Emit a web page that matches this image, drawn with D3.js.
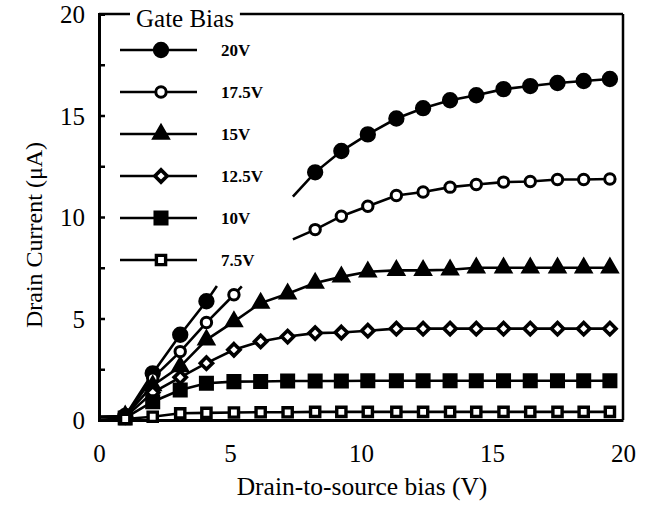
<!DOCTYPE html>
<html>
<head>
<meta charset="utf-8">
<script src="https://cdn.jsdelivr.net/npm/d3@7/dist/d3.min.js"></script>
<style>
  body { margin: 0; background: #fff; }
</style>
</head>
<body>
<div id="chart"></div>
<script>
// drain-to-source bias (V) where points were taken
var vds = [0, 1.0, 2.05, 3.1, 4.1, 5.15, 6.17, 7.2, 8.25, 9.25, 10.26, 11.35, 12.37, 13.4, 14.4, 15.44, 16.46, 17.5, 18.5, 19.5];

var gateLabels = ["20V", "17.5V", "15V", "12.5V", "10V", "7.5V"];

// drain current (uA), null = hidden in the original figure
var id20  = [0.15, 0.2, 2.3, 4.2, 5.85, null, null, null, 12.2, 13.25, 14.07, 14.85, 15.36, 15.75, 16.0, 16.3, 16.45, 16.6, 16.7, 16.8];
var id175 = [0.15, 0.2, 2.06, 3.37, 4.8, 6.17, null, null, 9.38, 10.04, 10.53, 11.06, 11.23, 11.47, 11.6, 11.72, 11.75, 11.85, 11.85, 11.87];
var id15  = [0.15, 0.2, 1.7, 2.63, 3.95, 4.85, 5.76, 6.22, 6.75, 7.05, 7.3, 7.37, 7.37, 7.4, 7.5, 7.5, 7.5, 7.5, 7.5, 7.5];
var id125 = [0.15, 0.15, 1.35, 2.1, 2.8, 3.46, 3.87, 4.11, 4.28, 4.31, 4.4, 4.5, 4.5, 4.5, 4.5, 4.5, 4.5, 4.5, 4.5, 4.5];
var id10  = [0.15, 0.1, 0.9, 1.48, 1.81, 1.89, 1.9, 1.92, 1.92, 1.92, 1.93, 1.93, 1.93, 1.93, 1.93, 1.93, 1.93, 1.93, 1.93, 1.93];
var id75  = [0.15, 0.05, 0.16, 0.33, 0.35, 0.37, 0.38, 0.38, 0.4, 0.4, 0.4, 0.4, 0.4, 0.4, 0.4, 0.4, 0.4, 0.4, 0.4, 0.4];

// line ends that run into the blank region (no marker)
var stubX20  = [4.5, 7.4];
var stubY20  = [6.6, 11.0];
var stubX175 = [5.45, 7.4];
var stubY175 = [6.58, 8.9];

var yTicks = [0, 2.5, 5, 7.5, 10, 12.5, 15, 17.5, 20];
var xTicks = [0, 5, 10, 15, 20];

var FONT = "'Liberation Serif', 'Times New Roman', 'DejaVu Serif', serif";
var W = 650, H = 505;
var svg = d3.select("#chart").append("svg").attr("width", W).attr("height", H)
  .style("font-family", FONT);

var x = d3.scaleLinear().domain([0, 20]).range([99, 623]);
var y = d3.scaleLinear().domain([0, 20]).range([420, 14]);

var series = [
  {label: gateLabels[0], vals: id20,  sx: stubX20,  sy: stubY20,  sym: d3.symbolCircle,   size: 140, fill: "#000", sw: 3},
  {label: gateLabels[1], vals: id175, sx: stubX175, sy: stubY175, sym: d3.symbolCircle,   size: 85,  fill: "#fff", sw: 3},
  {label: gateLabels[2], vals: id15,  sx: [], sy: [],             sym: d3.symbolTriangle, size: 90,  fill: "#000", sw: 3},
  {label: gateLabels[3], vals: id125, sx: [], sy: [],             sym: d3.symbolDiamond2, size: 95,  fill: "#fff", sw: 3.6},
  {label: gateLabels[4], vals: id10,  sx: [], sy: [],             sym: d3.symbolSquare,   size: 145, fill: "#000", sw: 3},
  {label: gateLabels[5], vals: id75,  sx: [], sy: [],             sym: d3.symbolSquare,   size: 85,  fill: "#fff", sw: 3.4}
];

var line = d3.line()
  .defined(function(d) { return d.i != null; })
  .x(function(d) { return x(d.v); })
  .y(function(d) { return y(d.i); });

// frame
svg.append("line").attr("x1", x(20)).attr("x2", x(20)).attr("y1", y(0)).attr("y2", y(20))
  .attr("stroke", "#000").attr("stroke-width", 2.5);
svg.append("line").attr("x1", x(0)).attr("x2", x(20)).attr("y1", y(20)).attr("y2", y(20))
  .attr("stroke", "#000").attr("stroke-width", 2.5);

// y axis, ticks pointing inward
var yAxis = svg.append("g").attr("transform", "translate(" + x(0) + ",0)")
  .call(d3.axisLeft(y).tickValues(yTicks).tickSize(-6).tickPadding(14)
    .tickFormat(function(d) { return d % 5 === 0 ? d : ""; }));
yAxis.attr("font-family", null).attr("font-size", null);
yAxis.select(".domain").attr("stroke-width", 3);
yAxis.selectAll(".tick line").attr("stroke-width", 2.5);
yAxis.selectAll("text").style("font-size", "25px").style("font-family", FONT).attr("dy", "0.35em");

var xAxis = svg.append("g").attr("transform", "translate(0," + y(0) + ")")
  .call(d3.axisBottom(x).tickValues(xTicks).tickSize(0).tickPadding(33).tickSizeOuter(0));
xAxis.attr("font-family", null).attr("font-size", null);
xAxis.select(".domain").attr("stroke-width", 3);
xAxis.selectAll("text").style("font-size", "25px").style("font-family", FONT).attr("dy", "0.35em");

// series
series.forEach(function(s) {
  var pts = s.vals.map(function(v, k) { return {v: vds[k], i: v, mark: k > 0}; });
  s.sx.forEach(function(v, k) { pts.push({v: v, i: s.sy[k], mark: false}); });
  pts.sort(function(a, b) { return a.v - b.v; });

  svg.append("path").datum(pts).attr("d", line)
    .attr("fill", "none").attr("stroke", "#000").attr("stroke-width", 2.6);

  svg.selectAll(null).data(pts.filter(function(d) { return d.mark && d.i != null; }))
    .enter().append("path")
    .attr("d", d3.symbol().type(s.sym).size(s.size))
    .attr("transform", function(d) { return "translate(" + x(d.v) + "," + y(d.i) + ")"; })
    .attr("fill", s.fill).attr("stroke", "#000").attr("stroke-width", s.sw);
});

// legend
var leg = svg.append("g");
var title = leg.append("text").attr("x", 136).attr("y", 27).style("font-size", "25px").text("Gate Bias");
var bb = title.node().getBBox();
leg.insert("rect", "text").attr("x", bb.x - 6).attr("y", bb.y).attr("width", bb.width + 12).attr("height", bb.height)
  .attr("fill", "#fff");

series.forEach(function(s, k) {
  var ry = 50 + k * 42;
  leg.append("line").attr("x1", 120).attr("x2", 197).attr("y1", ry).attr("y2", ry)
    .attr("stroke", "#000").attr("stroke-width", 2.6);
  leg.append("path").attr("d", d3.symbol().type(s.sym).size(s.size))
    .attr("transform", "translate(161," + ry + ")")
    .attr("fill", s.fill).attr("stroke", "#000").attr("stroke-width", s.sw);
  leg.append("text").attr("x", 221).attr("y", ry).attr("dy", "0.35em")
    .style("font-size", "17px").style("font-weight", "bold").text(s.label);
});

// axis titles
svg.append("text").attr("x", 362).attr("y", 495).attr("text-anchor", "middle")
  .style("font-size", "25.5px").text("Drain-to-source bias (V)");
svg.append("text").attr("transform", "translate(42,235) rotate(-90)").attr("text-anchor", "middle")
  .style("font-size", "24px").text("Drain Current (\u03bcA)");
</script>
</body>
</html>
